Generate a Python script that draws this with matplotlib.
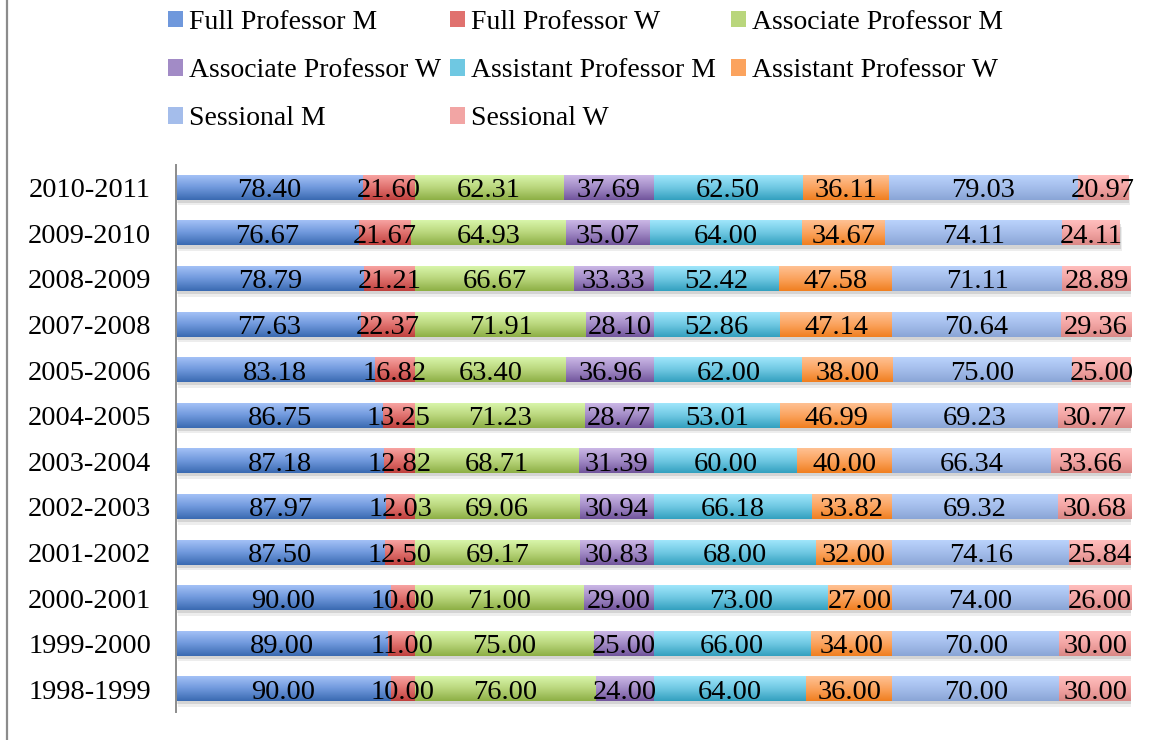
"""Stacked horizontal bars: share of men and women by faculty rank, per year."""

import matplotlib

matplotlib.use("Agg")
import matplotlib.pyplot as plt
import matplotlib.patheffects as pe
import numpy as np
from matplotlib.colors import to_rgb
from matplotlib.lines import Line2D
from matplotlib.patches import Patch

years = ["2010-2011", "2009-2010", "2008-2009", "2007-2008", "2005-2006",
         "2004-2005", "2003-2004", "2002-2003", "2001-2002", "2000-2001",
         "1999-2000", "1998-1999"]

series_names = ["Full Professor M", "Full Professor W", "Associate Professor M",
                "Associate Professor W", "Assistant Professor M",
                "Assistant Professor W", "Sessional M", "Sessional W"]

full_m = [78.40, 76.67, 78.79, 77.63, 83.18, 86.75, 87.18, 87.97, 87.50, 90.00, 89.00, 90.00]
full_w = [21.60, 21.67, 21.21, 22.37, 16.82, 13.25, 12.82, 12.03, 12.50, 10.00, 11.00, 10.00]
assoc_m = [62.31, 64.93, 66.67, 71.91, 63.40, 71.23, 68.71, 69.06, 69.17, 71.00, 75.00, 76.00]
assoc_w = [37.69, 35.07, 33.33, 28.10, 36.96, 28.77, 31.39, 30.94, 30.83, 29.00, 25.00, 24.00]
asst_m = [62.50, 64.00, 52.42, 52.86, 62.00, 53.01, 60.00, 66.18, 68.00, 73.00, 66.00, 64.00]
asst_w = [36.11, 34.67, 47.58, 47.14, 38.00, 46.99, 40.00, 33.82, 32.00, 27.00, 34.00, 36.00]
sess_m = [79.03, 74.11, 71.11, 70.64, 75.00, 69.23, 66.34, 69.32, 74.16, 74.00, 70.00, 70.00]
sess_w = [20.97, 24.11, 28.89, 29.36, 25.00, 30.77, 33.66, 30.68, 25.84, 26.00, 30.00, 30.00]

# (top, middle, bottom) of the Excel-style vertical gradient
gradients = [
    ("#a3c1f6", "#6f98dc", "#3a6ab1"),
    ("#f7a3a1", "#e0716e", "#bf403d"),
    ("#d8f5aa", "#b9d67c", "#8daf45"),
    ("#cbb7e6", "#a28bc6", "#71559c"),
    ("#a0e6fb", "#6fc8e2", "#33a0bf"),
    ("#ffc193", "#fba35e", "#f07f20"),
    ("#bad3fc", "#a4bdeb", "#8aa5d6"),
    ("#ffbebd", "#f2a5a4", "#da8785"),
]

plt.rcParams["font.family"] = ["Liberation Serif", "DejaVu Serif"]
FONT = 20.5
LEGEND_FONT = 20


def gradient_image(colors, n=64):
    top, mid, bottom = (np.array(to_rgb(c)) for c in colors)
    t = np.linspace(0, 1, n)[:, None]
    upper = top + (mid - top) * np.clip(t * 2, 0, 1)
    img = np.where(t < 0.5, upper, mid + (bottom - mid) * np.clip(t * 2 - 1, 0, 1))
    return np.repeat(img[:, None, :], 2, axis=1)


fig = plt.figure(figsize=(11.56, 7.4), dpi=100)
ax = fig.add_axes([176 / 1156, 1 - 712 / 740, (1131 - 176) / 1156, (712 - 165) / 740])

values = [full_m, full_w, assoc_m, assoc_w, asst_m, asst_w, sess_m, sess_w]
y = np.arange(len(years))[::-1]
left = np.zeros(len(years))
shadow = [pe.SimplePatchShadow(offset=(1.5, -4), shadow_rgbFace="black", alpha=0.07),
          pe.SimplePatchShadow(offset=(1, -2.2), shadow_rgbFace="black", alpha=0.10),
          pe.Normal()]

for name, vals, colors in zip(series_names, values, gradients):
    bars = ax.barh(y, vals, left=left, height=0.53, color=colors[1],
                   label=name, zorder=1)
    for bar in bars:
        bar.set_path_effects(shadow)
        x0, y0 = bar.get_x(), bar.get_y()
        ax.imshow(gradient_image(colors), extent=(x0, x0 + bar.get_width(), y0,
                                                  y0 + bar.get_height()),
                  origin="upper", aspect="auto", interpolation="bilinear",
                  clip_path=bar, zorder=1.5)
    labels = ax.bar_label(bars, fmt="%.2f", label_type="center", fontsize=FONT)
    for text in labels:
        text.set_zorder(5)
        text.set_va("center_baseline")
    left += np.array(vals)

ax.set_xlim(0, 400)
ax.set_ylim(-0.5, len(years) - 0.5)
ax.set_yticks(y, years, fontsize=FONT)
ax.set_xticks([])
ax.tick_params(axis="y", length=0, pad=18)
for side in ("top", "right", "bottom"):
    ax.spines[side].set_visible(False)
ax.spines["left"].set_color("#8c8c8c")
ax.spines["left"].set_linewidth(1.4)

# Excel lays the legend out row-wise in equal-width columns: one legend per column
n_cols = 3
column_x = [168, 450, 731]
for col, x_px in enumerate(column_x):
    idx = list(range(col, len(series_names), n_cols))
    handles = [Patch(facecolor=gradients[i][1], label=series_names[i]) for i in idx]
    fig.legend(handles=handles, loc="upper left",
               bbox_to_anchor=(x_px / 1156, 1 - 10 / 740), frameon=False,
               fontsize=LEGEND_FONT, handlelength=0.54, handleheight=0.54,
               handletextpad=0.2, labelspacing=0.83,
               borderpad=0, borderaxespad=0)

fig.add_artist(Line2D([7 / 1156, 7 / 1156], [0, 1], color="#8c8c8c",
                      linewidth=1.6, transform=fig.transFigure))

fig.savefig("out.png", dpi=100)
